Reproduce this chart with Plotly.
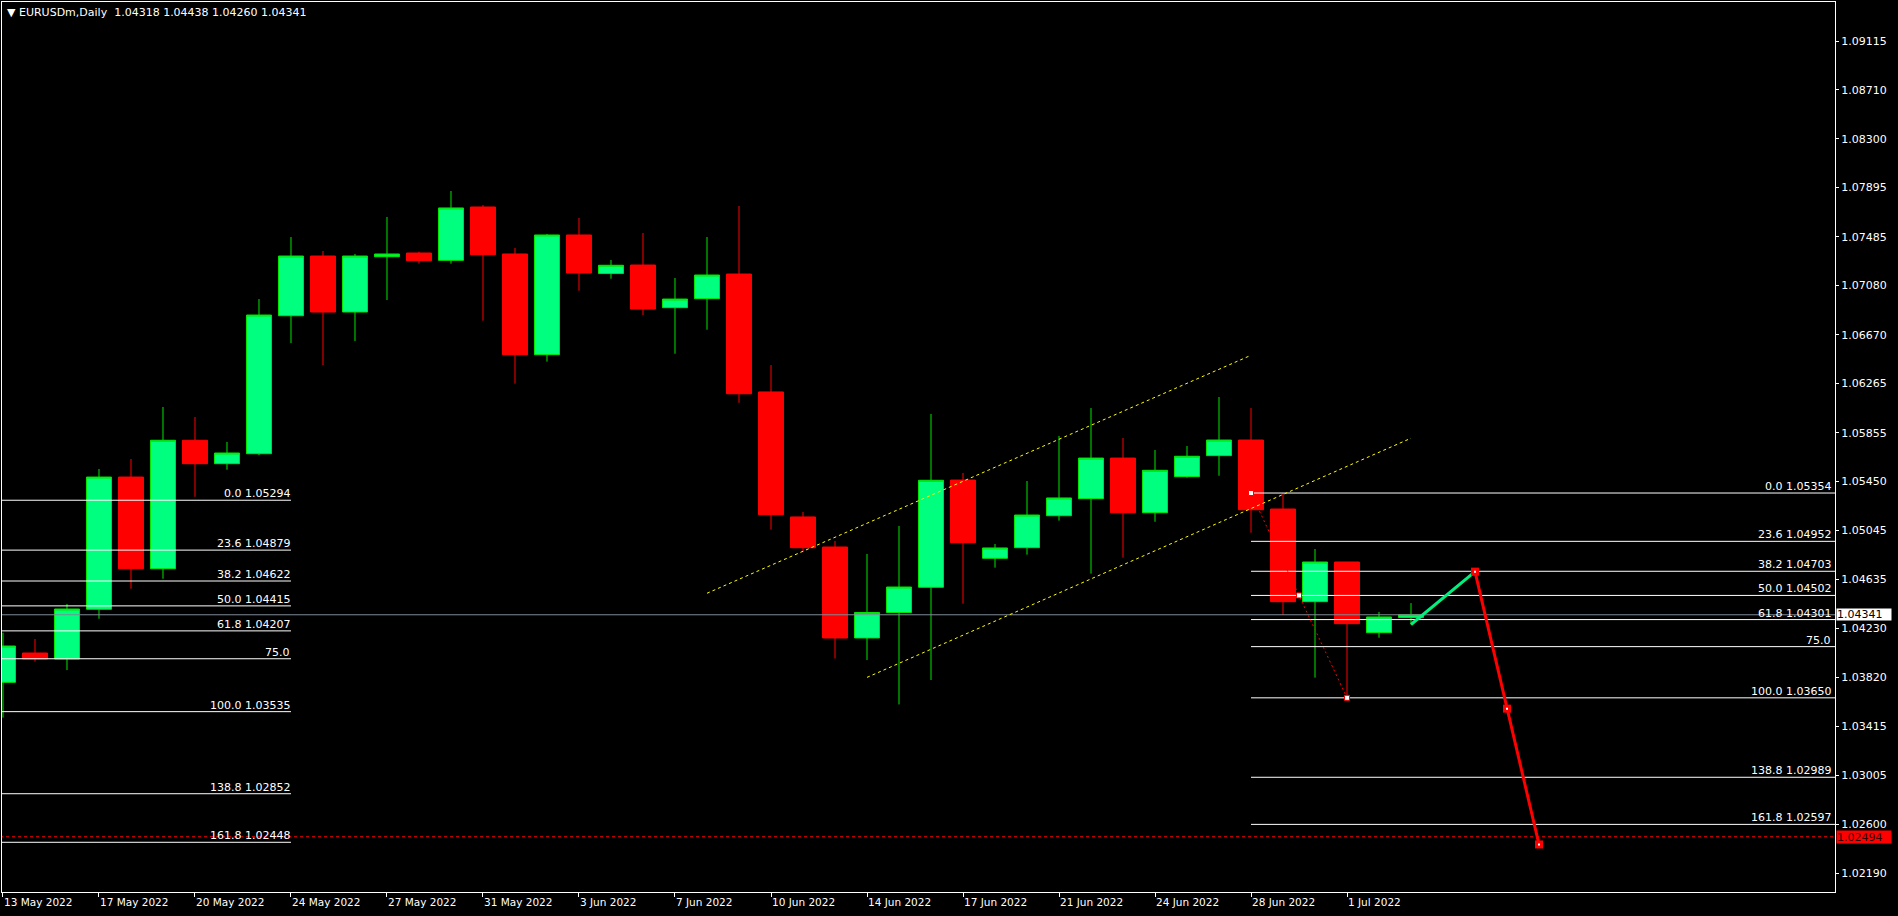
import plotly.graph_objects as go

# ---------------- data ----------------
bar_dates = ["13 May", "15 May", "16 May", "17 May", "18 May", "19 May", "20 May", "22 May",
             "23 May", "24 May", "25 May", "26 May", "27 May", "29 May", "30 May", "31 May",
             "1 Jun", "2 Jun", "3 Jun", "5 Jun", "6 Jun", "7 Jun", "8 Jun", "9 Jun", "10 Jun",
             "12 Jun", "13 Jun", "14 Jun", "15 Jun", "16 Jun", "17 Jun", "19 Jun", "20 Jun",
             "21 Jun", "22 Jun", "23 Jun", "24 Jun", "26 Jun", "27 Jun", "28 Jun", "29 Jun",
             "30 Jun", "1 Jul", "3 Jul", "4 Jul"]

opens = [1.03779, 1.04023, 1.03973, 1.04387, 1.05487, 1.04724, 1.05793, 1.05598, 1.05681,
         1.06829, 1.07326, 1.06860, 1.07320, 1.07351, 1.07290, 1.07734, 1.07343, 1.06505,
         1.07501, 1.07180, 1.07251, 1.06896, 1.06971, 1.07176, 1.06195, 1.05155, 1.04905,
         1.04148, 1.04360, 1.04570, 1.05462, 1.04811, 1.04899, 1.05165, 1.05307, 1.05645,
         1.05190, 1.05490, 1.05665, 1.05795, 1.05221, 1.04450, 1.04780, 1.04192, 1.04318]
highs = [1.04192, 1.04139, 1.04431, 1.05554, 1.05637, 1.06070, 1.05987, 1.05779, 1.06968,
         1.07484, 1.07368, 1.07343, 1.07651, 1.07362, 1.07867, 1.07751, 1.07393, 1.07509,
         1.07642, 1.07293, 1.07518, 1.07143, 1.07484, 1.07742, 1.06419, 1.05196, 1.04955,
         1.04847, 1.05080, 1.06012, 1.05521, 1.04930, 1.05454, 1.05829, 1.06061, 1.05812,
         1.05712, 1.05745, 1.06153, 1.06061, 1.05354, 1.04888, 1.04780, 1.04365, 1.04438]
lows = [1.03485, 1.03951, 1.03881, 1.04308, 1.04558, 1.04641, 1.05323, 1.05548, 1.05670,
        1.06602, 1.06419, 1.06619, 1.06960, 1.07262, 1.07262, 1.06788, 1.06264, 1.06447,
        1.07037, 1.07137, 1.06835, 1.06513, 1.06713, 1.06105, 1.05049, 1.04861, 1.03977,
        1.03965, 1.03595, 1.03798, 1.04433, 1.04733, 1.04841, 1.05124, 1.04683, 1.04816,
        1.05115, 1.05482, 1.05498, 1.05024, 1.04339, 1.03818, 1.03650, 1.04150, 1.04260]
closes = [1.04081, 1.03973, 1.04389, 1.05487, 1.04724, 1.05793, 1.05598, 1.05687, 1.06835,
          1.07326, 1.06860, 1.07326, 1.07343, 1.07287, 1.07726, 1.07337, 1.06505, 1.07501,
          1.07185, 1.07249, 1.06885, 1.06968, 1.07168, 1.06180, 1.05174, 1.04899, 1.04148,
          1.04360, 1.04572, 1.05460, 1.04941, 1.04897, 1.05171, 1.05313, 1.05645, 1.05190,
          1.05543, 1.05660, 1.05795, 1.05215, 1.04450, 1.04780, 1.04267, 1.04323, 1.04341]

x_tick_bars = [0, 3, 6, 9, 12, 15, 18, 21, 24, 27, 30, 33, 36, 39, 42]
x_tick_labels = ["13 May 2022", "17 May 2022", "20 May 2022", "24 May 2022", "27 May 2022",
                 "31 May 2022", "3 Jun 2022", "7 Jun 2022", "10 Jun 2022", "14 Jun 2022",
                 "17 Jun 2022", "21 Jun 2022", "24 Jun 2022", "28 Jun 2022", "1 Jul 2022"]

y_ticks = [1.09115, 1.08710, 1.08300, 1.07895, 1.07485, 1.07080, 1.06670, 1.06265, 1.05855,
           1.05450, 1.05045, 1.04635, 1.04230, 1.03820, 1.03415, 1.03005, 1.02600, 1.02190]

header_text = "EURUSDm,Daily  1.04318 1.04438 1.04260 1.04341"
current_price = 1.04341
alert_price = 1.02494

# Fibonacci 1 (left)
fib1_pct = ["0.0", "23.6", "38.2", "50.0", "61.8", "75.0", "100.0", "138.8", "161.8"]
fib1_levels = [1.05294, 1.04879, 1.04622, 1.04415, 1.04207, 1.03975, 1.03535, 1.02852, 1.02448]
fib1_price_text = ["1.05294", "1.04879", "1.04622", "1.04415", "1.04207", "", "1.03535", "1.02852", "1.02448"]
fib1_bars = [-2, 9]

# Fibonacci 2 (right)
fib2_pct = ["0.0", "23.6", "38.2", "50.0", "61.8", "75.0", "100.0", "138.8", "161.8"]
fib2_levels = [1.05354, 1.04952, 1.04703, 1.04502, 1.04301, 1.04076, 1.03650, 1.02989, 1.02597]
fib2_price_text = ["1.05354", "1.04952", "1.04703", "1.04502", "1.04301", "", "1.03650", "1.02989", "1.02597"]
fib2_bars = [39, 60]
fib2_anchor_bars = [39, 40.5, 42]
fib2_anchor_prices = [1.05354, 1.04502, 1.03650]

# Channel (yellow dotted)
chan_upper_bars = [22, 39]
chan_upper_prices = [1.0452, 1.0650]
chan_lower_bars = [27, 44]
chan_lower_prices = [1.0382, 1.0581]

# Projection path
proj_up_bars = [44, 46]
proj_up_prices = [1.0426, 1.0470]
proj_down_bars = [46, 47, 48]
proj_down_prices = [1.0470, 1.0356, 1.0243]

# ---------------- figure ----------------
FONT = "DejaVu Sans"
x_idx = list(range(len(opens)))
x_min, x_max = -0.031, 57.25
fig = go.Figure()

fig.add_trace(go.Candlestick(
    x=x_idx, open=opens, high=highs, low=lows, close=closes,
    increasing=dict(line=dict(color="#00e400", width=1), fillcolor="#00ff7f"),
    decreasing=dict(line=dict(color="#ff0000", width=1), fillcolor="#ff0000"),
    whiskerwidth=0, hoverinfo="skip", showlegend=False))

# current price line
fig.add_trace(go.Scatter(x=[x_min - 1, x_max + 1], y=[current_price] * 2, mode="lines",
                         line=dict(color="#7f8a96", width=1), hoverinfo="skip", showlegend=False))
# alert line
fig.add_trace(go.Scatter(x=[x_min - 1, x_max + 1], y=[alert_price] * 2, mode="lines",
                         line=dict(color="#ff0000", width=1, dash="3px,3px"),
                         hoverinfo="skip", showlegend=False))

# fib lines
def fib_xy(bars, levels):
    xs, ys = [], []
    for lv in levels:
        xs += [bars[0], bars[1], None]
        ys += [lv, lv, None]
    return xs, ys

for bars, levels in ((fib1_bars, fib1_levels), (fib2_bars, fib2_levels)):
    fx, fy = fib_xy(bars, levels)
    fig.add_trace(go.Scatter(x=fx, y=fy, mode="lines", line=dict(color="white", width=1),
                             hoverinfo="skip", showlegend=False))

# fib diagonal
fig.add_trace(go.Scatter(x=[fib2_anchor_bars[0], fib2_anchor_bars[-1]],
                         y=[fib2_anchor_prices[0], fib2_anchor_prices[-1]], mode="lines",
                         line=dict(color="#ff0000", width=1, dash="2px,3px"),
                         hoverinfo="skip", showlegend=False))
fig.add_trace(go.Scatter(x=fib2_anchor_bars, y=fib2_anchor_prices, mode="markers",
                         marker=dict(symbol="square", size=5, color="white",
                                     line=dict(color="#ff0000", width=1)),
                         hoverinfo="skip", showlegend=False))

# channel
for bx, py in ((chan_upper_bars, chan_upper_prices), (chan_lower_bars, chan_lower_prices)):
    fig.add_trace(go.Scatter(x=bx, y=py, mode="lines",
                             line=dict(color="#ffff00", width=1, dash="3px,3px"),
                             hoverinfo="skip", showlegend=False))

# projection
fig.add_trace(go.Scatter(x=proj_up_bars, y=proj_up_prices, mode="lines",
                         line=dict(color="#00f080", width=3), hoverinfo="skip", showlegend=False))
fig.add_trace(go.Scatter(x=proj_down_bars, y=proj_down_prices, mode="lines+markers",
                         line=dict(color="#ff0000", width=3),
                         marker=dict(symbol="square", size=8, color="#ff0000"),
                         hoverinfo="skip", showlegend=False))
fig.add_trace(go.Scatter(x=proj_down_bars, y=proj_down_prices, mode="markers",
                         marker=dict(symbol="square", size=2, color="white"),
                         hoverinfo="skip", showlegend=False))

# annotations
ann = []
for pct, lv, pt in zip(fib1_pct, fib1_levels, fib1_price_text):
    ann.append(dict(x=fib1_bars[1], y=lv, xref="x", yref="y", text=(pct + "\u00a0" + pt).strip("\u00a0"),
                    showarrow=False, xanchor="right", yanchor="bottom", yshift=-2, xshift=1,
                    font=dict(family=FONT, size=11, color="white")))
for pct, lv, pt in zip(fib2_pct, fib2_levels, fib2_price_text):
    ann.append(dict(x=x_max - 0.05, y=lv, xref="x", yref="y", text=(pct + "\u00a0" + pt).strip("\u00a0"),
                    showarrow=False, xanchor="right", yanchor="bottom", yshift=-2,
                    font=dict(family=FONT, size=11, color="white")))
ann.append(dict(x=0, y=1, xref="paper", yref="paper", text="\u25bc\u00a0" + header_text.replace(" ", "\u00a0"),
                showarrow=False, xanchor="left", yanchor="top", xshift=3, yshift=-2,
                font=dict(family=FONT, size=11, color="white")))
ann.append(dict(x=1, y=current_price, xref="paper", yref="y", text=f"{current_price:.5f}",
                showarrow=False, xanchor="left", yanchor="middle", xshift=1,
                bgcolor="white", width=54, height=11, borderpad=0, align="left",
                font=dict(family=FONT, size=11, color="black")))
ann.append(dict(x=1, y=alert_price, xref="paper", yref="y", text=f"{alert_price:.5f}",
                showarrow=False, xanchor="left", yanchor="middle", xshift=1,
                bgcolor="#ff0000", width=54, height=12, borderpad=0, align="left",
                font=dict(family=FONT, size=11, color="#300000")))

fig.update_layout(
    width=1898, height=916,
    paper_bgcolor="black", plot_bgcolor="black",
    margin=dict(l=2, r=63, t=2, b=24),
    boxgap=0.22, boxgroupgap=0,
    showlegend=False,
    annotations=ann,
    hovermode=False,
    xaxis=dict(range=[x_min, x_max], tickmode="array", tickvals=x_tick_bars, ticktext=x_tick_labels,
               ticks="outside", ticklen=4, tickcolor="white", ticklabelposition="outside right",
               showgrid=False, zeroline=False, showline=True, linecolor="white", linewidth=1,
               mirror=True, rangeslider=dict(visible=False),
               tickfont=dict(family=FONT, size=10.5, color="white")),
    yaxis=dict(range=[1.020344, 1.094395], side="right", tickmode="array", tickvals=y_ticks,
               ticktext=[f"{v:.5f}" for v in y_ticks], ticks="outside", ticklen=3, tickcolor="white",
               showgrid=False, zeroline=False, showline=True, linecolor="white", linewidth=1,
               mirror=True, tickfont=dict(family=FONT, size=11, color="white")),
)

fig.write_html("out.html", config={"displayModeBar": False},
               post_script="document.body.style.margin='0px';document.body.style.background='black';"
                           "document.body.style.overflow='hidden';")
